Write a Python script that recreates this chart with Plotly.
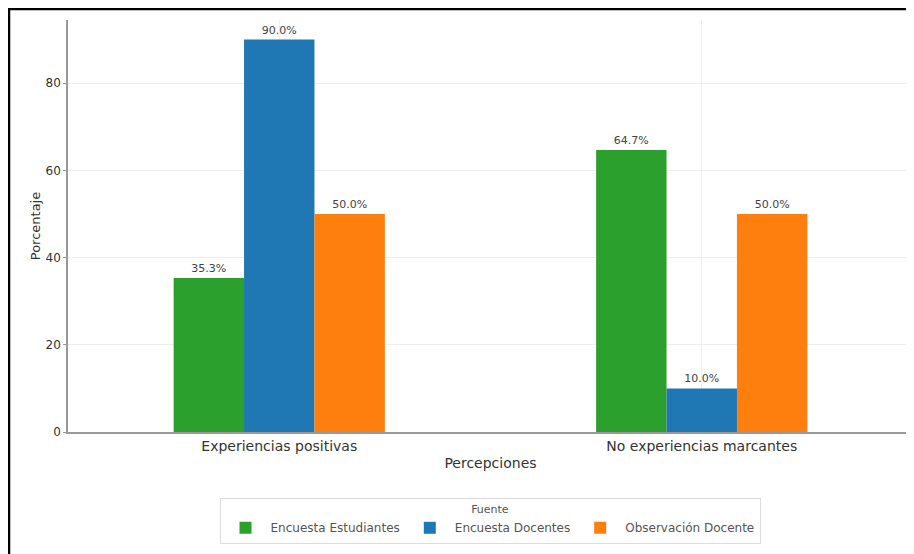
import plotly.graph_objects as go

categories = ["Experiencias positivas", "No experiencias marcantes"]
series_names = ["Encuesta Estudiantes", "Encuesta Docentes", "Observación Docente"]
estudiantes = [35.3, 64.7]
docentes = [90.0, 10.0]
observacion = [50.0, 50.0]
colors = ["#2ca02c", "#1f77b4", "#ff7f0e"]

fig = go.Figure()
for name, vals, col in zip(series_names, [estudiantes, docentes, observacion], colors):
    fig.add_trace(go.Bar(
        x=categories, y=vals, name=name, marker=dict(color=col, line=dict(width=0)),
        text=[f"{v:.1f}%" for v in vals], textposition="outside",
        textfont=dict(size=11, color="#444444"), cliponaxis=False,
    ))

OFF = 8  # page body margin
W, H = 914, 554
# target page pixel positions of plot area
PL, PR, PT, PB = 68, 913, 20, 432
L = PL - OFF
T = PT - OFF
R = W - (PR - OFF)
B = H - (PB - OFF)
pw = W - L - R
ph = H - T - B

def px_x(x):
    return (x - OFF - L) / pw

def px_y(y):
    return (H - B - (y - OFF)) / ph

fig.update_layout(
    width=W, height=H,
    margin=dict(l=L, r=R, t=T, b=B),
    paper_bgcolor="white", plot_bgcolor="white",
    barmode="group", bargap=0.5, bargroupgap=0,
    font=dict(family="DejaVu Sans", color="#333333", size=13),
    xaxis=dict(
        range=[-0.5, 1.5], showline=True, linecolor="#999999", linewidth=1.5,
        showgrid=True, gridcolor="#eeeeee", ticks="", tickfont=dict(size=14),
        title=dict(text="Percepciones", font=dict(size=14), standoff=6),
    ),
    yaxis=dict(
        range=[0, 94.5], showline=True, linecolor="#999999", linewidth=1.5,
        showgrid=True, gridcolor="#eeeeee", ticks="outside", ticklen=3,
        tickcolor="#999999", tickvals=[0, 20, 40, 60, 80], tickfont=dict(size=12),
        title=dict(text="Porcentaje", font=dict(size=13), standoff=2), zeroline=False,
    ),
    legend=dict(
        orientation="h", x=px_x(490), xanchor="center", y=px_y(498), yanchor="top",
        title=dict(text="Fuente", side="top center", font=dict(size=11)),
        font=dict(size=12, color="#555555"), bordercolor="#dddddd", borderwidth=1,
        itemwidth=40, tracegroupgap=0,
    ),
    shapes=[
        dict(type="line", xref="paper", yref="paper", x0=px_x(9), x1=px_x(9),
             y0=px_y(8), y1=px_y(H + 20), line=dict(color="black", width=2.5)),
        dict(type="line", xref="paper", yref="paper", x0=px_x(9), x1=px_x(W + 20),
             y0=px_y(9), y1=px_y(9), line=dict(color="black", width=2.5)),
    ],
)

fig.write_html("out.html")
